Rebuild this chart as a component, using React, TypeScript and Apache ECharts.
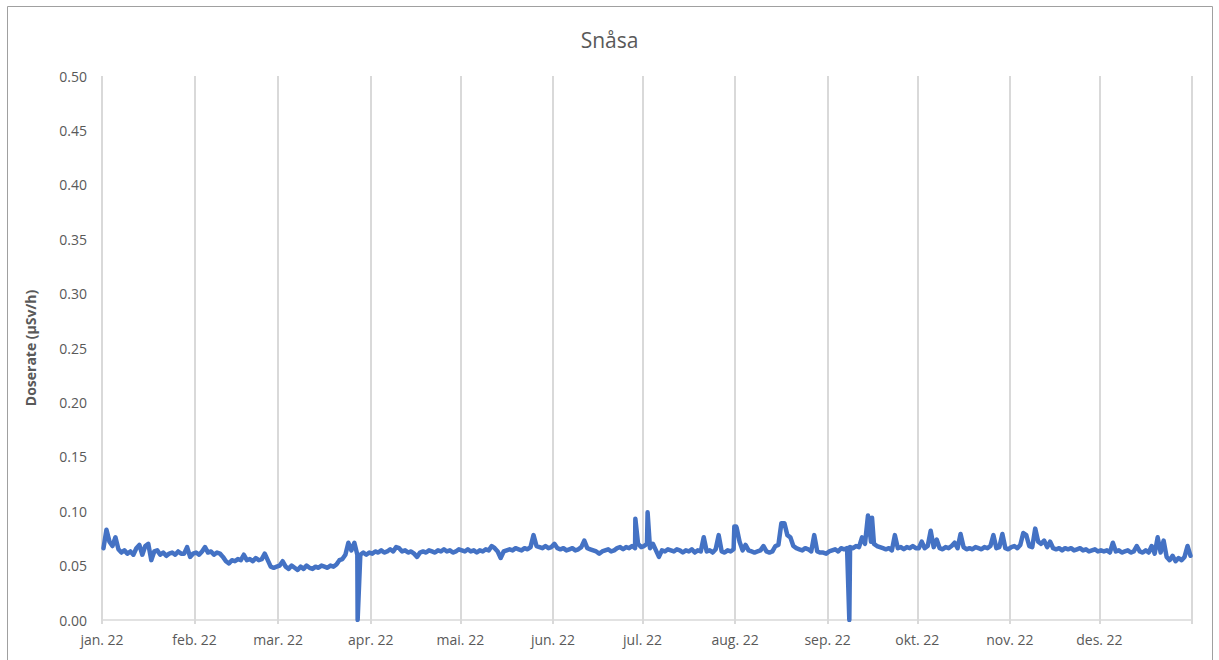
import React, { useEffect, useRef } from "react";
import * as echarts from "echarts";

// Month boundaries (day of year) and month labels
const monthStartDays = [0, 31, 59, 90, 120, 151, 181, 212, 243, 273, 304, 334, 365];
const monthLabels = ["jan. 22", "feb. 22", "mar. 22", "apr. 22", "mai. 22", "jun. 22", "jul. 22", "aug. 22", "sep. 22", "okt. 22", "nov. 22", "des. 22"];

// y-axis range
const yMin = 0;
const yMax = 0.5;
const yStep = 0.05;

// Daily dose-rate readings (µSv/h)
const jan = [0.066, 0.083, 0.072, 0.068, 0.076, 0.065, 0.062, 0.064, 0.061, 0.063, 0.060, 0.066, 0.069, 0.060, 0.068, 0.070, 0.055, 0.063, 0.064, 0.060, 0.062, 0.059, 0.061, 0.062, 0.060, 0.063, 0.061, 0.061, 0.067, 0.058, 0.061];
const feb = [0.062, 0.060, 0.063, 0.067, 0.062, 0.063, 0.060, 0.062, 0.061, 0.058, 0.054, 0.052, 0.055, 0.054, 0.056, 0.055, 0.060, 0.055, 0.056, 0.054, 0.057, 0.055, 0.056, 0.061, 0.055, 0.049, 0.048, 0.049];
const mar = [0.050, 0.054, 0.049, 0.047, 0.050, 0.048, 0.046, 0.049, 0.047, 0.050, 0.048, 0.047, 0.049, 0.048, 0.050, 0.049, 0.048, 0.050, 0.049, 0.051, 0.055, 0.056, 0.060, 0.071, 0.064, 0.071, 0.060, 0.060, 0.062, 0.060, 0.062];
const apr = [0.061, 0.063, 0.062, 0.064, 0.062, 0.063, 0.065, 0.063, 0.067, 0.066, 0.063, 0.064, 0.062, 0.063, 0.061, 0.058, 0.062, 0.063, 0.062, 0.064, 0.063, 0.062, 0.064, 0.063, 0.065, 0.063, 0.064, 0.062, 0.063, 0.065];
const mai = [0.064, 0.063, 0.065, 0.063, 0.064, 0.062, 0.064, 0.063, 0.065, 0.064, 0.068, 0.066, 0.063, 0.057, 0.063, 0.064, 0.065, 0.064, 0.066, 0.065, 0.064, 0.066, 0.065, 0.067, 0.078, 0.068, 0.067, 0.066, 0.068, 0.066, 0.067];
const jun = [0.070, 0.066, 0.065, 0.066, 0.064, 0.065, 0.066, 0.064, 0.065, 0.067, 0.073, 0.066, 0.065, 0.064, 0.063, 0.061, 0.063, 0.064, 0.065, 0.063, 0.064, 0.066, 0.067, 0.065, 0.067, 0.066, 0.068, 0.066, 0.070, 0.067];
const jul = [0.068, 0.070, 0.066, 0.070, 0.064, 0.058, 0.064, 0.063, 0.065, 0.064, 0.063, 0.065, 0.064, 0.062, 0.064, 0.063, 0.065, 0.062, 0.064, 0.063, 0.076, 0.063, 0.064, 0.062, 0.065, 0.078, 0.063, 0.062, 0.064, 0.063, 0.065];
const aug = [0.085, 0.072, 0.064, 0.069, 0.064, 0.063, 0.062, 0.063, 0.064, 0.068, 0.063, 0.062, 0.063, 0.068, 0.069, 0.089, 0.089, 0.078, 0.076, 0.068, 0.066, 0.065, 0.064, 0.066, 0.065, 0.063, 0.078, 0.063, 0.062, 0.062, 0.061];
const sep = [0.063, 0.064, 0.065, 0.063, 0.066, 0.065, 0.066, 0.067, 0.066, 0.068, 0.067, 0.076, 0.070, 0.096, 0.072, 0.070, 0.068, 0.067, 0.066, 0.065, 0.066, 0.064, 0.078, 0.066, 0.067, 0.065, 0.067, 0.066, 0.068, 0.066];
const okt = [0.066, 0.072, 0.066, 0.068, 0.082, 0.067, 0.074, 0.066, 0.065, 0.067, 0.066, 0.068, 0.071, 0.066, 0.079, 0.067, 0.065, 0.066, 0.065, 0.067, 0.066, 0.065, 0.067, 0.066, 0.068, 0.078, 0.066, 0.067, 0.079, 0.066, 0.065];
const nov = [0.067, 0.068, 0.066, 0.069, 0.080, 0.078, 0.068, 0.067, 0.084, 0.072, 0.070, 0.073, 0.067, 0.072, 0.066, 0.065, 0.066, 0.064, 0.066, 0.065, 0.066, 0.064, 0.065, 0.066, 0.064, 0.065, 0.063, 0.064, 0.065, 0.063];
const des = [0.064, 0.063, 0.064, 0.062, 0.071, 0.063, 0.064, 0.062, 0.063, 0.064, 0.062, 0.063, 0.068, 0.063, 0.062, 0.064, 0.062, 0.068, 0.061, 0.076, 0.062, 0.073, 0.058, 0.055, 0.059, 0.054, 0.057, 0.055, 0.058, 0.068, 0.059];

// Short-lived readings between daily values: [day of year, µSv/h]
const spikes: [number, number][] = [
  [85.6, 0.0],
  [85.8, 0.0],
  [178.6, 0.093],
  [182.7, 0.099],
  [211.75, 0.086],
  [212.3, 0.086],
  [250.25, 0.0],
  [250.4, 0.0],
  [257.85, 0.094],
];

const dailyValues = [...jan, ...feb, ...mar, ...apr, ...mai, ...jun, ...jul, ...aug, ...sep, ...okt, ...nov, ...des];

const FONT = "'Open Sans', 'Noto Sans', sans-serif";
const TEXT = "#595959";
const GRID = "#d9d9d9";

export default function App() {
  const ref = useRef<HTMLDivElement>(null);

  useEffect(() => {
    document.body.style.margin = "0";
    if (!ref.current) return;
    const chart = echarts.init(ref.current, undefined, { renderer: "svg" });

    const seriesData: [number, number][] = dailyValues
      .map((v, i) => [i + 0.5, v] as [number, number])
      .concat(spikes)
      .sort((a, b) => a[0] - b[0]);

    chart.setOption({
      animation: false,
      backgroundColor: "#ffffff",
      title: {
        text: "Snåsa",
        left: "center",
        top: 24,
        textStyle: { fontFamily: FONT, fontSize: 21, fontWeight: "normal", color: TEXT },
      },
      graphic: [
        {
          type: "rect",
          silent: true,
          z: -10,
          shape: { x: 7.5, y: 6.5, width: 1205, height: 700 },
          style: { fill: "none", stroke: "#a0a0a0", lineWidth: 1 },
        },
      ],
      grid: { left: 102, right: 27, top: 76, bottom: 40, containLabel: false },
      xAxis: {
        type: "value",
        min: monthStartDays[0],
        max: monthStartDays[monthStartDays.length - 1],
        axisLine: { show: true, lineStyle: { color: GRID, width: 1.5 } },
        axisTick: {
          show: true,
          length: 4,
          customValues: monthStartDays,
          lineStyle: { color: GRID, width: 2 },
        },
        splitLine: { show: true, lineStyle: { color: GRID, width: 2 } },
        axisLabel: {
          customValues: monthStartDays.slice(0, 12),
          margin: 12,
          fontFamily: FONT,
          fontSize: 14,
          color: TEXT,
          formatter: (v: number) => {
            const idx = monthStartDays.indexOf(Math.round(v));
            return idx >= 0 && idx < monthLabels.length ? monthLabels[idx] : "";
          },
        },
      },
      yAxis: {
        type: "value",
        min: yMin,
        max: yMax,
        interval: yStep,
        name: "Doserate (µSv/h)",
        nameLocation: "middle",
        nameGap: 65,
        nameRotate: 90,
        nameTextStyle: { fontFamily: FONT, fontSize: 14, fontWeight: "bold", color: TEXT },
        axisLine: { show: false },
        axisTick: { show: false },
        splitLine: { show: false },
        axisLabel: {
          margin: 15,
          fontFamily: FONT,
          fontSize: 14,
          color: TEXT,
          formatter: (v: number) => v.toFixed(2),
        },
      },
      series: [
        {
          type: "line",
          data: seriesData,
          showSymbol: false,
          symbol: "none",
          lineStyle: { color: "#4472C4", width: 4.5, join: "round", cap: "round" },
          clip: true,
        },
      ],
    });

    return () => chart.dispose();
  }, []);

  return <div ref={ref} style={{ width: 1219, height: 660 }} />;
}
